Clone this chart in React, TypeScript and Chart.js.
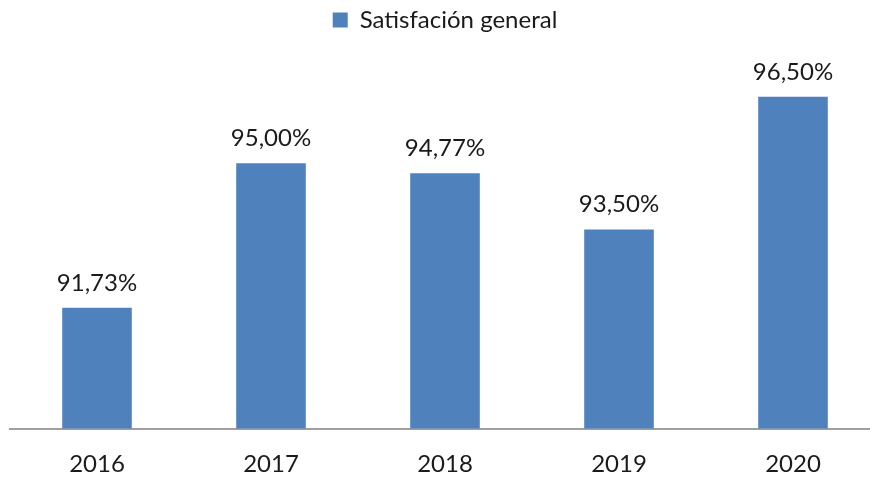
import React, { useEffect, useRef } from "react";
import { Chart, registerables } from "chart.js";

Chart.register(...registerables);

const categories = ["2016", "2017", "2018", "2019", "2020"];
const seriesName = "Satisfación general";
const values = [91.73, 95.0, 94.77, 93.5, 96.5];
const yMin = 89;
const yMax = 97.74;

const FONT = "Lato, 'Open Sans', sans-serif";

const fmt = (v: number) => v.toFixed(2).replace(".", ",") + "%";

const dataLabelPlugin = {
  id: "dataLabels",
  afterDatasetsDraw(chart: any) {
    const ctx = chart.ctx;
    const meta = chart.getDatasetMeta(0);
    ctx.save();
    ctx.font = `24px ${FONT}`;
    ctx.fillStyle = "#1a1a1a";
    ctx.textAlign = "center";
    ctx.textBaseline = "middle";
    meta.data.forEach((bar: any, i: number) => {
      ctx.fillText(fmt(values[i]), bar.x, bar.y - 25);
    });
    ctx.restore();
  },
};

export default function App() {
  const ref = useRef<HTMLCanvasElement | null>(null);
  useEffect(() => {
    if (!ref.current) return;
    const chart = new Chart(ref.current, {
      type: "bar",
      data: {
        labels: categories,
        datasets: [
          {
            label: seriesName,
            data: values,
            backgroundColor: "#4f81bd",
            borderWidth: 0,
            barPercentage: 0.4,
            categoryPercentage: 1,
          },
        ],
      },
      options: {
        responsive: false,
        animation: false,
        layout: { padding: { left: 10, right: 10, top: 0, bottom: 0 } },
        plugins: {
          legend: {
            display: true,
            position: "top",
            labels: {
              font: { family: FONT, size: 24 },
              color: "#1a1a1a",
              boxWidth: 15,
              boxHeight: 15,
              padding: 8,
            },
          },
          tooltip: { enabled: false },
        },
        scales: {
          x: {
            grid: { display: false, drawTicks: false },
            border: { display: true, color: "#a0a0a0", width: 2 },
            ticks: {
              font: { family: FONT, size: 24 },
              color: "#1a1a1a",
              padding: 21,
            },
            afterFit: (scale: any) => {
              scale.height = 52.5;
            },
          },
          y: {
            display: false,
            min: yMin,
            max: yMax,
          },
        },
      },
      plugins: [dataLabelPlugin],
    });
    return () => chart.destroy();
  }, []);
  return (
    <div
      style={{
        position: "absolute",
        left: 0,
        top: 0,
        width: 870,
        height: 481,
        overflow: "hidden",
        background: "#fff",
      }}
    >
      <canvas ref={ref} width={890} height={481} style={{ width: 890, height: 481 }} />
    </div>
  );
}
